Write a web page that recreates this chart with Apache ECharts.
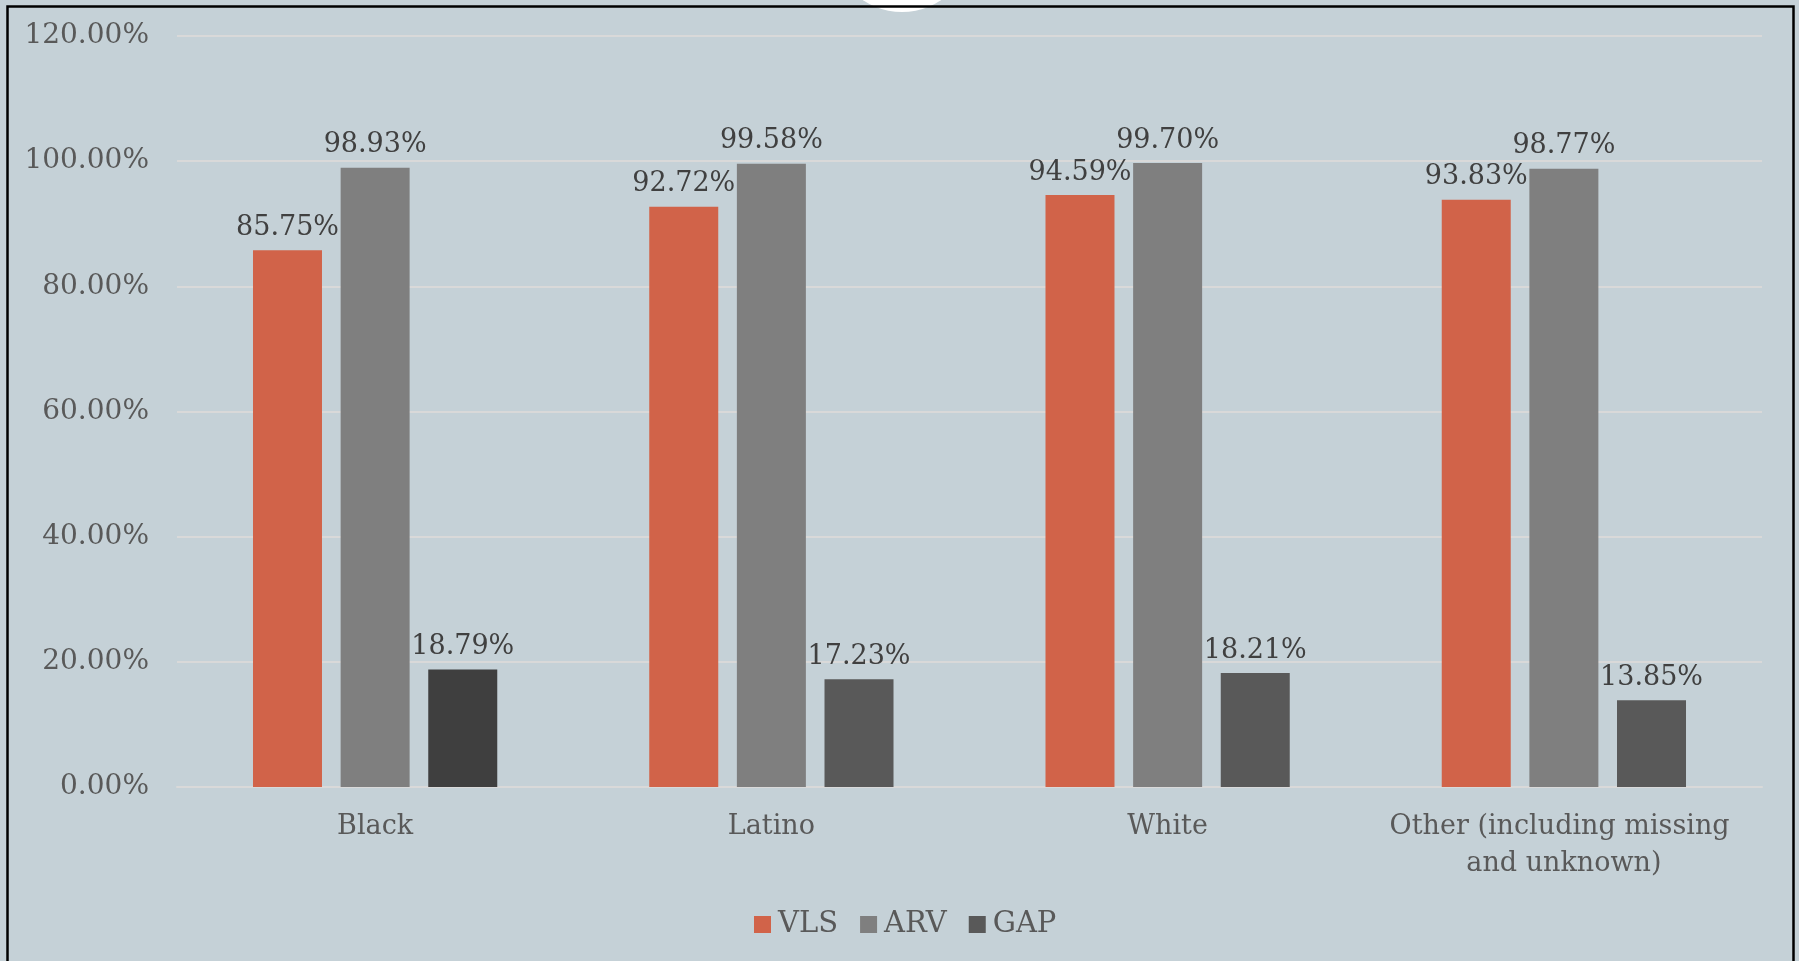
<!DOCTYPE html>
<html>
<head>
<meta charset="utf-8">
<script src="https://cdn.jsdelivr.net/npm/echarts@6/dist/echarts.min.js"></script>
<style>
html,body{margin:0;padding:0;background:#C5D1D7;}
#chart{width:1799px;height:961px;}
</style>
</head>
<body>
<div id="chart"></div>
<script>
const categories = ['Black', 'Latino', 'White', 'Other (including missing and unknown)'];
const vlsValues = [85.75, 92.72, 94.59, 93.83];
const arvValues = [98.93, 99.58, 99.70, 98.77];
const gapValues = [18.79, 17.23, 18.21, 13.85];
const yTicks = [0, 20, 40, 60, 80, 100, 120];

const FONT = 'DejaVu Serif';
const chart = echarts.init(document.getElementById('chart'));
const pct = v => Number(v).toFixed(2) + '%';
const labelCfg = {
  show: true, position: 'top', distance: 9,
  fontFamily: FONT, fontSize: 27, color: '#404040',
  formatter: p => pct(p.value)
};
chart.setOption({
  backgroundColor: '#C5D1D7',
  animation: false,
  grid: { left: 177, right: 37, top: 36, bottom: 174 },
  legend: {
    left: 749, top: 905,
    itemWidth: 17, itemHeight: 17, itemGap: 22,
    icon: 'rect',
    textStyle: { fontFamily: FONT, fontSize: 29, color: '#595959', padding: [0, 0, 0, 2] },
    data: ['VLS', 'ARV', 'GAP']
  },
  xAxis: {
    type: 'category',
    data: categories,
    axisTick: { show: false },
    axisLine: { show: true, lineStyle: { color: '#D9D9D9', width: 2 } },
    axisLabel: {
      interval: 0, margin: 21, fontFamily: FONT, fontSize: 27, color: '#595959',
      width: 365, overflow: 'break', lineHeight: 37
    }
  },
  yAxis: {
    type: 'value',
    min: yTicks[0], max: yTicks[yTicks.length - 1], interval: yTicks[1] - yTicks[0],
    axisLine: { show: false },
    axisTick: { show: false },
    splitLine: { lineStyle: { color: '#D9D9D9', width: 2 } },
    axisLabel: { margin: 28, fontFamily: FONT, fontSize: 28, color: '#595959', formatter: v => pct(v) }
  },
  series: [
    { name: 'VLS', type: 'bar', data: vlsValues, barWidth: 69, barGap: '27%',
      itemStyle: { color: '#D16349' }, label: labelCfg },
    { name: 'ARV', type: 'bar', data: arvValues, barWidth: 69, barGap: '27%',
      itemStyle: { color: '#7F7F7F' }, label: labelCfg },
    { name: 'GAP', type: 'bar', barWidth: 69, barGap: '27%',
      data: gapValues.map((v, i) => i === 0 ? { value: v, itemStyle: { color: '#3F3F3F' } } : v),
      itemStyle: { color: '#595959' }, label: labelCfg }
  ],
  graphic: [
    { type: 'rect', left: 5, top: 4, shape: { width: 1786, height: 1000 }, silent: true, z: 100,
      style: { fill: 'none', stroke: '#000', lineWidth: 2.5 } },
    { type: 'circle', shape: { cx: 902, cy: -58, r: 70 }, silent: true, z: 99,
      style: { fill: '#ffffff' } }
  ]
});
</script>
</body>
</html>
